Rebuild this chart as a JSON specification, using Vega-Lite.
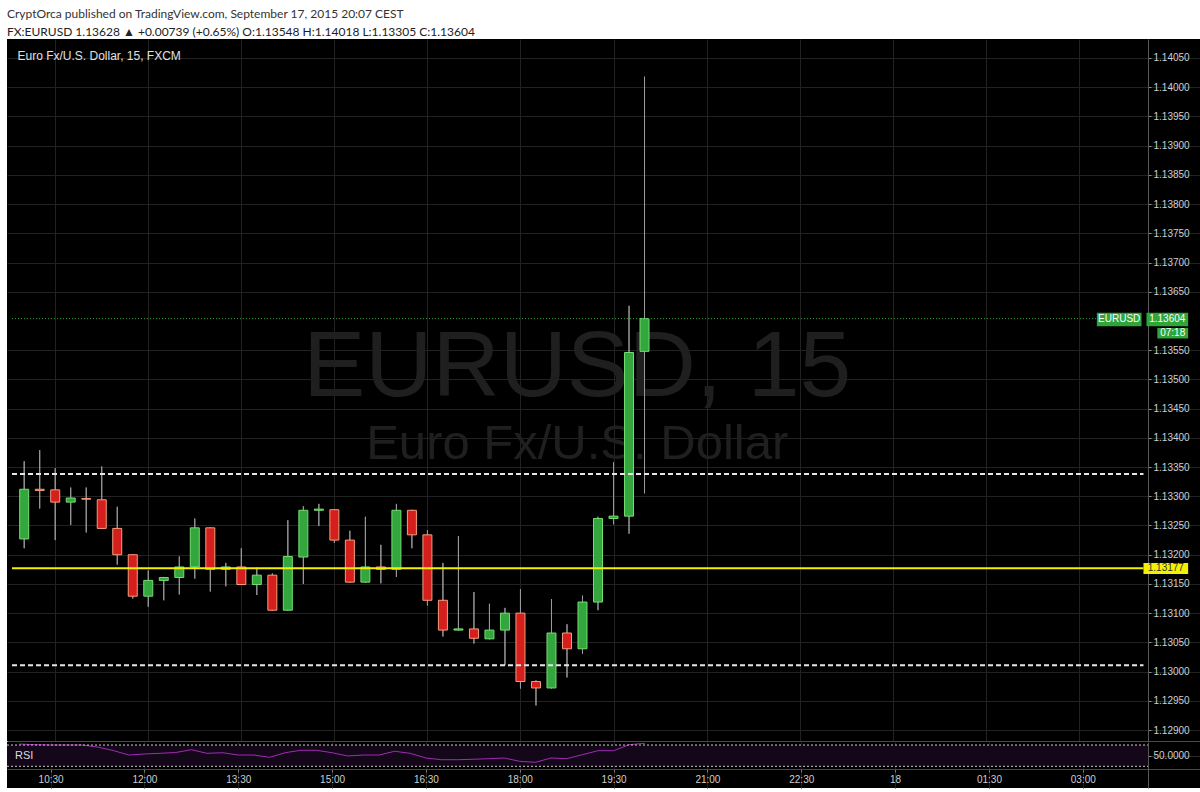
{
  "$schema": "https://vega.github.io/schema/vega-lite/v6.json",
  "background": "#ffffff",
  "padding": {"left": 6, "top": 7, "right": 0, "bottom": 6},
  "title": {
    "text": "CryptOrca published on TradingView.com, September 17, 2015 20:07 CEST",
    "subtitle": "FX:EURUSD 1.13628 ▲ +0.00739 (+0.65%) O:1.13548 H:1.14018 L:1.13305 C:1.13604",
    "anchor": "start",
    "frame": "group",
    "font": "Lato",
    "fontSize": 12,
    "fontWeight": "normal",
    "color": "#333333",
    "subtitleFont": "Lato",
    "subtitleFontSize": 12,
    "subtitleColor": "#222222",
    "subtitlePadding": 6.5,
    "offset": 0
  },
  "config": {
    "font": "Liberation Sans",
    "view": {"fill": "#000000", "stroke": null},
    "concat": {"spacing": 0}
  },
  "datasets": {
    "one": [{}],
    "bars": [
      {"t": "2015-09-17T10:00:00", "o": 1.13227, "h": 1.13360, "l": 1.13211, "c": 1.13312, "rsi": 71.9},
      {"t": "2015-09-17T10:15:00", "o": 1.13312, "h": 1.13379, "l": 1.13279, "c": 1.13310, "rsi": 70.6},
      {"t": "2015-09-17T10:30:00", "o": 1.13311, "h": 1.13348, "l": 1.13225, "c": 1.13290, "rsi": 70.0},
      {"t": "2015-09-17T10:45:00", "o": 1.13290, "h": 1.13315, "l": 1.13251, "c": 1.13297, "rsi": 70.0},
      {"t": "2015-09-17T11:00:00", "o": 1.13296, "h": 1.13315, "l": 1.13238, "c": 1.13295, "rsi": 70.0},
      {"t": "2015-09-17T11:15:00", "o": 1.13294, "h": 1.13351, "l": 1.13244, "c": 1.13245, "rsi": 66.2},
      {"t": "2015-09-17T11:30:00", "o": 1.13245, "h": 1.13282, "l": 1.13183, "c": 1.13200, "rsi": 59.7},
      {"t": "2015-09-17T11:45:00", "o": 1.13200, "h": 1.13201, "l": 1.13125, "c": 1.13129, "rsi": 51.2},
      {"t": "2015-09-17T12:00:00", "o": 1.13129, "h": 1.13173, "l": 1.13111, "c": 1.13156, "rsi": 53.1},
      {"t": "2015-09-17T12:15:00", "o": 1.13156, "h": 1.13162, "l": 1.13122, "c": 1.13161, "rsi": 54.4},
      {"t": "2015-09-17T12:30:00", "o": 1.13161, "h": 1.13197, "l": 1.13132, "c": 1.13179, "rsi": 55.9},
      {"t": "2015-09-17T12:45:00", "o": 1.13179, "h": 1.13262, "l": 1.13159, "c": 1.13246, "rsi": 61.2},
      {"t": "2015-09-17T13:00:00", "o": 1.13246, "h": 1.13247, "l": 1.13137, "c": 1.13175, "rsi": 54.4},
      {"t": "2015-09-17T13:15:00", "o": 1.13175, "h": 1.13186, "l": 1.13146, "c": 1.13179, "rsi": 55.5},
      {"t": "2015-09-17T13:30:00", "o": 1.13179, "h": 1.13211, "l": 1.13148, "c": 1.13149, "rsi": 51.2},
      {"t": "2015-09-17T13:45:00", "o": 1.13149, "h": 1.13178, "l": 1.13131, "c": 1.13165, "rsi": 51.2},
      {"t": "2015-09-17T14:00:00", "o": 1.13165, "h": 1.13168, "l": 1.13104, "c": 1.13105, "rsi": 46.9},
      {"t": "2015-09-17T14:15:00", "o": 1.13105, "h": 1.13259, "l": 1.13104, "c": 1.13197, "rsi": 55.5},
      {"t": "2015-09-17T14:30:00", "o": 1.13196, "h": 1.13283, "l": 1.13150, "c": 1.13276, "rsi": 60.1},
      {"t": "2015-09-17T14:45:00", "o": 1.13276, "h": 1.13287, "l": 1.13249, "c": 1.13278, "rsi": 60.1},
      {"t": "2015-09-17T15:00:00", "o": 1.13277, "h": 1.13278, "l": 1.13220, "c": 1.13225, "rsi": 55.5},
      {"t": "2015-09-17T15:15:00", "o": 1.13225, "h": 1.13241, "l": 1.13152, "c": 1.13153, "rsi": 49.4},
      {"t": "2015-09-17T15:30:00", "o": 1.13153, "h": 1.13265, "l": 1.13152, "c": 1.13179, "rsi": 51.2},
      {"t": "2015-09-17T15:45:00", "o": 1.13179, "h": 1.13217, "l": 1.13151, "c": 1.13175, "rsi": 51.2},
      {"t": "2015-09-17T16:00:00", "o": 1.13175, "h": 1.13287, "l": 1.13162, "c": 1.13276, "rsi": 58.2},
      {"t": "2015-09-17T16:15:00", "o": 1.13276, "h": 1.13277, "l": 1.13211, "c": 1.13234, "rsi": 54.4},
      {"t": "2015-09-17T16:30:00", "o": 1.13234, "h": 1.13242, "l": 1.13113, "c": 1.13122, "rsi": 45.6},
      {"t": "2015-09-17T16:45:00", "o": 1.13122, "h": 1.13186, "l": 1.13060, "c": 1.13071, "rsi": 42.4},
      {"t": "2015-09-17T17:00:00", "o": 1.13071, "h": 1.13232, "l": 1.13070, "c": 1.13073, "rsi": 42.4},
      {"t": "2015-09-17T17:15:00", "o": 1.13073, "h": 1.13136, "l": 1.13048, "c": 1.13057, "rsi": 43.2},
      {"t": "2015-09-17T17:30:00", "o": 1.13056, "h": 1.13116, "l": 1.13055, "c": 1.13071, "rsi": 44.3},
      {"t": "2015-09-17T17:45:00", "o": 1.13071, "h": 1.13109, "l": 1.13011, "c": 1.13100, "rsi": 45.6},
      {"t": "2015-09-17T18:00:00", "o": 1.13100, "h": 1.13141, "l": 1.12971, "c": 1.12983, "rsi": 39.4},
      {"t": "2015-09-17T18:15:00", "o": 1.12983, "h": 1.12985, "l": 1.12942, "c": 1.12972, "rsi": 37.5},
      {"t": "2015-09-17T18:30:00", "o": 1.12972, "h": 1.13124, "l": 1.12971, "c": 1.13066, "rsi": 45.6},
      {"t": "2015-09-17T18:45:00", "o": 1.13066, "h": 1.13081, "l": 1.12990, "c": 1.13039, "rsi": 44.3},
      {"t": "2015-09-17T19:00:00", "o": 1.13039, "h": 1.13130, "l": 1.13030, "c": 1.13119, "rsi": 51.8},
      {"t": "2015-09-17T19:15:00", "o": 1.13119, "h": 1.13265, "l": 1.13105, "c": 1.13262, "rsi": 59.3},
      {"t": "2015-09-17T19:30:00", "o": 1.13262, "h": 1.13358, "l": 1.13252, "c": 1.13266, "rsi": 59.3},
      {"t": "2015-09-17T19:45:00", "o": 1.13266, "h": 1.13626, "l": 1.13236, "c": 1.13546, "rsi": 70.6},
      {"t": "2015-09-17T20:00:00", "o": 1.13548, "h": 1.14018, "l": 1.13305, "c": 1.13604, "rsi": 73.2}
    ]
  },
  "resolve": {"scale": {"x": "independent", "y": "independent"}},
  "vconcat": [
    {
      "width": 1194,
      "height": 702,
      "layer": [
        {
          "data": {"name": "bars"},
          "mark": {"type": "rule", "color": "#9a9a9a", "strokeWidth": 1},
          "encoding": {
            "x": {"field": "t", "type": "temporal", "title": null,
                  "scale": {"domain": [{"year": 2015, "month": 9, "date": 17, "hours": 9, "minutes": 48, "seconds": 12}, {"year": 2015, "month": 9, "date": 18, "hours": 4, "minutes": 53, "seconds": 24}], "nice": false},
                  "axis": {"orient": "bottom", "title": null, "labels": false, "ticks": false, "domain": true, "domainColor": "#4a4a4a", "grid": true, "gridColor": "#222222",
                           "values": [{"year": 2015, "month": 9, "date": 17, "hours": 10, "minutes": 30}, {"year": 2015, "month": 9, "date": 17, "hours": 12, "minutes": 0}, {"year": 2015, "month": 9, "date": 17, "hours": 13, "minutes": 30}, {"year": 2015, "month": 9, "date": 17, "hours": 15, "minutes": 0}, {"year": 2015, "month": 9, "date": 17, "hours": 16, "minutes": 30}, {"year": 2015, "month": 9, "date": 17, "hours": 18, "minutes": 0}, {"year": 2015, "month": 9, "date": 17, "hours": 19, "minutes": 30}, {"year": 2015, "month": 9, "date": 17, "hours": 21, "minutes": 0}, {"year": 2015, "month": 9, "date": 17, "hours": 22, "minutes": 30}, {"year": 2015, "month": 9, "date": 18, "hours": 0, "minutes": 0}, {"year": 2015, "month": 9, "date": 18, "hours": 1, "minutes": 30}, {"year": 2015, "month": 9, "date": 18, "hours": 3, "minutes": 0}]}},
            "y": {"field": "l", "type": "quantitative", "title": null,
                  "scale": {"domain": [1.128812, 1.140825], "nice": false, "zero": false},
                  "axis": {"orient": "right", "offset": -53, "title": null, "format": ".5f", "labelColor": "#cfcfcf", "labelFontSize": 10, "labelPadding": 2, "labelOverlap": false, "tickSize": 3, "tickColor": "#8a8a8a", "domainColor": "#5a5a5a", "grid": true, "gridColor": "#222222", "tickCount": 24,
                           "values": [1.129, 1.1295, 1.13, 1.1305, 1.131, 1.1315, 1.132, 1.1325, 1.133, 1.1335, 1.134, 1.1345, 1.135, 1.1355, 1.1365, 1.137, 1.1375, 1.138, 1.1385, 1.139, 1.1395, 1.14, 1.1405]}},
            "y2": {"field": "h"}
          }
        },
        {
          "data": {"name": "one"},
          "mark": {"type": "text", "fontSize": 93, "font": "Liberation Sans", "color": "#1f1f1f", "align": "center", "baseline": "alphabetic"},
          "encoding": {
            "x": {"datum": {"year": 2015, "month": 9, "date": 17, "hours": 18, "minutes": 54, "seconds": 54}, "type": "temporal"},
            "y": {"datum": 1.13472, "type": "quantitative"},
            "text": {"value": "EURUSD, 15"}
          }
        },
        {
          "data": {"name": "one"},
          "mark": {"type": "text", "fontSize": 49, "font": "Liberation Sans", "color": "#1f1f1f", "align": "center", "baseline": "alphabetic"},
          "encoding": {
            "x": {"datum": {"year": 2015, "month": 9, "date": 17, "hours": 18, "minutes": 54, "seconds": 54}, "type": "temporal"},
            "y": {"datum": 1.13364, "type": "quantitative"},
            "text": {"value": "Euro Fx/U.S. Dollar"}
          }
        },
        {
          "data": {"name": "bars"},
          "mark": {"type": "rule", "color": "#9a9a9a", "strokeWidth": 1},
          "encoding": {
            "x": {"field": "t", "type": "temporal", "title": null},
            "y": {"field": "l", "type": "quantitative", "title": null},
            "y2": {"field": "h"}
          }
        },
        {
          "data": {"name": "bars"},
          "mark": {"type": "bar", "width": 9, "strokeWidth": 1},
          "encoding": {
            "x": {"field": "t", "type": "temporal", "title": null},
            "y": {"field": "o", "type": "quantitative", "title": null},
            "y2": {"field": "c"},
            "fill": {"condition": {"test": "datum.c >= datum.o", "value": "#33a63d"}, "value": "#d41f1c"},
            "stroke": {"condition": {"test": "datum.c >= datum.o", "value": "#74dd70"}, "value": "#f59d7c"}
          }
        },
        {
          "data": {"name": "one"},
          "mark": {"type": "rule", "color": "#e6e6e6", "strokeWidth": 2, "strokeDash": [5, 3]},
          "encoding": {
            "x": {"datum": {"year": 2015, "month": 9, "date": 17, "hours": 9, "minutes": 48, "seconds": 12}, "type": "temporal"},
            "x2": {"datum": {"year": 2015, "month": 9, "date": 18, "hours": 4, "minutes": 2, "seconds": 36}},
            "y": {"datum": 1.13338, "type": "quantitative"}
          }
        },
        {
          "data": {"name": "one"},
          "mark": {"type": "rule", "color": "#e6e6e6", "strokeWidth": 2, "strokeDash": [5, 3]},
          "encoding": {
            "x": {"datum": {"year": 2015, "month": 9, "date": 17, "hours": 9, "minutes": 48, "seconds": 12}, "type": "temporal"},
            "x2": {"datum": {"year": 2015, "month": 9, "date": 18, "hours": 4, "minutes": 2, "seconds": 36}},
            "y": {"datum": 1.13011, "type": "quantitative"}
          }
        },
        {
          "data": {"name": "one"},
          "mark": {"type": "rule", "color": "#f2f200", "strokeWidth": 2},
          "encoding": {
            "x": {"datum": {"year": 2015, "month": 9, "date": 17, "hours": 9, "minutes": 48, "seconds": 12}, "type": "temporal"},
            "x2": {"datum": {"year": 2015, "month": 9, "date": 18, "hours": 4, "minutes": 2, "seconds": 36}},
            "y": {"datum": 1.13177, "type": "quantitative"}
          }
        },
        {
          "data": {"name": "one"},
          "mark": {"type": "rule", "color": "#2fa53a", "strokeWidth": 1, "strokeDash": [1, 2]},
          "encoding": {
            "x": {"datum": {"year": 2015, "month": 9, "date": 17, "hours": 9, "minutes": 48, "seconds": 12}, "type": "temporal"},
            "x2": {"datum": {"year": 2015, "month": 9, "date": 18, "hours": 3, "minutes": 17, "seconds": 30}},
            "y": {"datum": 1.13604, "type": "quantitative"}
          }
        },
        {
          "data": {"name": "one"},
          "mark": {"type": "text", "fontSize": 12, "color": "#e0e0e0", "align": "left", "baseline": "middle"},
          "encoding": {
            "x": {"datum": {"year": 2015, "month": 9, "date": 17, "hours": 9, "minutes": 53, "seconds": 30}, "type": "temporal"},
            "y": {"datum": 1.14053, "type": "quantitative"},
            "text": {"value": "Euro Fx/U.S. Dollar, 15, FXCM"}
          }
        },
        {
          "data": {"name": "one"},
          "mark": {"type": "rect", "color": "#2fa53a"},
          "encoding": {
            "x": {"datum": {"year": 2015, "month": 9, "date": 18, "hours": 3, "minutes": 17, "seconds": 30}, "type": "temporal"},
            "x2": {"datum": {"year": 2015, "month": 9, "date": 18, "hours": 4, "minutes": 0, "seconds": 42}},
            "y": {"datum": 1.13614, "type": "quantitative"},
            "y2": {"datum": 1.13591}
          }
        },
        {
          "data": {"name": "one"},
          "mark": {"type": "rect", "color": "#2fa53a"},
          "encoding": {
            "x": {"datum": {"year": 2015, "month": 9, "date": 18, "hours": 4, "minutes": 5, "seconds": 30}, "type": "temporal"},
            "x2": {"datum": {"year": 2015, "month": 9, "date": 18, "hours": 4, "minutes": 45, "seconds": 48}},
            "y": {"datum": 1.13614, "type": "quantitative"},
            "y2": {"datum": 1.13591}
          }
        },
        {
          "data": {"name": "one"},
          "mark": {"type": "rect", "color": "#2fa53a"},
          "encoding": {
            "x": {"datum": {"year": 2015, "month": 9, "date": 18, "hours": 4, "minutes": 16, "seconds": 0}, "type": "temporal"},
            "x2": {"datum": {"year": 2015, "month": 9, "date": 18, "hours": 4, "minutes": 45, "seconds": 48}},
            "y": {"datum": 1.13588, "type": "quantitative"},
            "y2": {"datum": 1.13570}
          }
        },
        {
          "data": {"name": "one"},
          "mark": {"type": "rect", "color": "#f2f200"},
          "encoding": {
            "x": {"datum": {"year": 2015, "month": 9, "date": 18, "hours": 4, "minutes": 2, "seconds": 36}, "type": "temporal"},
            "x2": {"datum": {"year": 2015, "month": 9, "date": 18, "hours": 4, "minutes": 45, "seconds": 48}},
            "y": {"datum": 1.13186, "type": "quantitative"},
            "y2": {"datum": 1.13167}
          }
        },
        {
          "data": {"name": "one"},
          "mark": {"type": "text", "fontSize": 10, "color": "#ffffff", "align": "center", "baseline": "middle"},
          "encoding": {
            "x": {"datum": {"year": 2015, "month": 9, "date": 18, "hours": 3, "minutes": 39, "seconds": 6}, "type": "temporal"},
            "y": {"datum": 1.136025, "type": "quantitative"},
            "text": {"value": "EURUSD"}
          }
        },
        {
          "data": {"name": "one"},
          "mark": {"type": "text", "fontSize": 10, "color": "#ffffff", "align": "center", "baseline": "middle"},
          "encoding": {
            "x": {"datum": {"year": 2015, "month": 9, "date": 18, "hours": 4, "minutes": 25, "seconds": 36}, "type": "temporal"},
            "y": {"datum": 1.136025, "type": "quantitative"},
            "text": {"value": "1.13604"}
          }
        },
        {
          "data": {"name": "one"},
          "mark": {"type": "text", "fontSize": 10, "color": "#ffffff", "align": "center", "baseline": "middle"},
          "encoding": {
            "x": {"datum": {"year": 2015, "month": 9, "date": 18, "hours": 4, "minutes": 30, "seconds": 54}, "type": "temporal"},
            "y": {"datum": 1.13579, "type": "quantitative"},
            "text": {"value": "07:18"}
          }
        },
        {
          "data": {"name": "one"},
          "mark": {"type": "text", "fontSize": 10, "color": "#333333", "align": "center", "baseline": "middle"},
          "encoding": {
            "x": {"datum": {"year": 2015, "month": 9, "date": 18, "hours": 4, "minutes": 24, "seconds": 12}, "type": "temporal"},
            "y": {"datum": 1.131765, "type": "quantitative"},
            "text": {"value": "1.13177"}
          }
        }
      ]
    },
    {
      "width": 1194,
      "height": 46,
      "layer": [
        {
          "data": {"name": "bars"},
          "mark": {"type": "line", "color": "#a12bb4", "strokeWidth": 1, "opacity": 0},
          "encoding": {
            "x": {"field": "t", "type": "temporal", "title": null,
                  "scale": {"domain": [{"year": 2015, "month": 9, "date": 17, "hours": 9, "minutes": 48, "seconds": 12}, {"year": 2015, "month": 9, "date": 18, "hours": 4, "minutes": 53, "seconds": 24}], "nice": false},
                  "axis": {"orient": "bottom", "offset": -19, "title": null, "labelColor": "#cfcfcf", "labelFontSize": 10, "labelPadding": 2, "tickSize": 3, "tickColor": "#777777", "domainColor": "#4a4a4a", "grid": true, "gridColor": "#222222",
                           "labelExpr": "hours(datum.value) == 0 && minutes(datum.value) == 0 ? timeFormat(datum.value, '%-d') : timeFormat(datum.value, '%H:%M')",
                           "values": [{"year": 2015, "month": 9, "date": 17, "hours": 10, "minutes": 30}, {"year": 2015, "month": 9, "date": 17, "hours": 12, "minutes": 0}, {"year": 2015, "month": 9, "date": 17, "hours": 13, "minutes": 30}, {"year": 2015, "month": 9, "date": 17, "hours": 15, "minutes": 0}, {"year": 2015, "month": 9, "date": 17, "hours": 16, "minutes": 30}, {"year": 2015, "month": 9, "date": 17, "hours": 18, "minutes": 0}, {"year": 2015, "month": 9, "date": 17, "hours": 19, "minutes": 30}, {"year": 2015, "month": 9, "date": 17, "hours": 21, "minutes": 0}, {"year": 2015, "month": 9, "date": 17, "hours": 22, "minutes": 30}, {"year": 2015, "month": 9, "date": 18, "hours": 0, "minutes": 0}, {"year": 2015, "month": 9, "date": 18, "hours": 1, "minutes": 30}, {"year": 2015, "month": 9, "date": 18, "hours": 3, "minutes": 0}]}},
            "y": {"field": "rsi", "type": "quantitative", "title": null,
                  "scale": {"domain": [-10.67, 75.63], "nice": false, "zero": false},
                  "axis": {"orient": "right", "offset": -53, "title": null, "format": ".4f", "values": [50], "labelColor": "#cfcfcf", "labelFontSize": 10, "labelPadding": 2, "tickSize": 3, "tickColor": "#8a8a8a", "domainColor": "#5a5a5a", "grid": true, "gridColor": "#2a2a2a"}}
          }
        },
        {
          "data": {"name": "one"},
          "mark": {"type": "rect", "color": "#140719"},
          "encoding": {
            "x": {"datum": {"year": 2015, "month": 9, "date": 17, "hours": 9, "minutes": 48, "seconds": 12}, "type": "temporal"},
            "x2": {"datum": {"year": 2015, "month": 9, "date": 18, "hours": 4, "minutes": 2, "seconds": 36}},
            "y": {"datum": 70, "type": "quantitative"},
            "y2": {"datum": 30}
          }
        },
        {
          "data": {"name": "bars"},
          "mark": {"type": "line", "color": "#a12bb4", "strokeWidth": 1},
          "encoding": {
            "x": {"field": "t", "type": "temporal", "title": null},
            "y": {"field": "rsi", "type": "quantitative", "title": null}
          }
        },
        {
          "data": {"name": "one"},
          "mark": {"type": "rule", "color": "#cccccc", "strokeWidth": 1, "strokeDash": [2, 2]},
          "encoding": {
            "x": {"datum": {"year": 2015, "month": 9, "date": 17, "hours": 9, "minutes": 48, "seconds": 12}, "type": "temporal"},
            "x2": {"datum": {"year": 2015, "month": 9, "date": 18, "hours": 4, "minutes": 2, "seconds": 36}},
            "y": {"datum": 70, "type": "quantitative"}
          }
        },
        {
          "data": {"name": "one"},
          "mark": {"type": "rule", "color": "#cccccc", "strokeWidth": 1, "strokeDash": [2, 2]},
          "encoding": {
            "x": {"datum": {"year": 2015, "month": 9, "date": 17, "hours": 9, "minutes": 48, "seconds": 12}, "type": "temporal"},
            "x2": {"datum": {"year": 2015, "month": 9, "date": 18, "hours": 4, "minutes": 2, "seconds": 36}},
            "y": {"datum": 30, "type": "quantitative"}
          }
        },
        {
          "data": {"name": "one"},
          "mark": {"type": "text", "fontSize": 11, "color": "#dddddd", "align": "left", "baseline": "middle"},
          "encoding": {
            "x": {"datum": {"year": 2015, "month": 9, "date": 17, "hours": 9, "minutes": 55, "seconds": 52}, "type": "temporal"},
            "y": {"datum": 50, "type": "quantitative"},
            "text": {"value": "RSI"}
          }
        }
      ]
    }
  ]
}
